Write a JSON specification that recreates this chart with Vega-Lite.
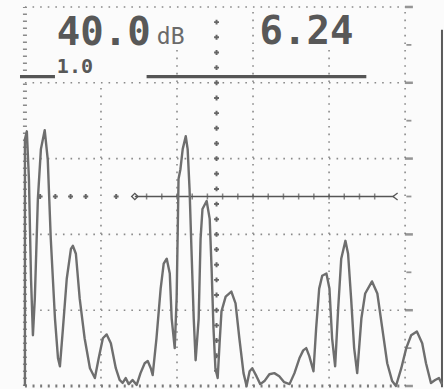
{
  "$schema": "https://vega.github.io/schema/vega-lite/v6.json",
  "width": 444,
  "height": 389,
  "autosize": {"type": "fit", "contains": "padding"},
  "padding": 0,
  "background": "#fbfbfb",
  "config": {"view": {"stroke": null}},
  "datasets": {
    "wave": [
      {"x": 0, "y": 0}, {"x": 0, "y": 65.1}, {"x": 0.5, "y": 67.2}, {"x": 1.05, "y": 54.6}, {"x": 1.6, "y": 28.3},
      {"x": 2.1, "y": 13.4}, {"x": 2.6, "y": 23.1}, {"x": 3.4, "y": 49.3}, {"x": 4.2, "y": 62.5}, {"x": 5.2, "y": 67.5},
      {"x": 6.0, "y": 59.8}, {"x": 6.8, "y": 38.8}, {"x": 7.9, "y": 17.8}, {"x": 8.7, "y": 7.3}, {"x": 9.2, "y": 5.2},
      {"x": 10.0, "y": 15.2}, {"x": 11.0, "y": 28.3}, {"x": 12.1, "y": 36.2}, {"x": 12.6, "y": 37.0}, {"x": 13.4, "y": 34.9},
      {"x": 14.4, "y": 23.1}, {"x": 15.7, "y": 12.6}, {"x": 17.1, "y": 4.7}, {"x": 18.4, "y": 2.1}, {"x": 19.4, "y": 7.3},
      {"x": 20.5, "y": 12.6}, {"x": 21.5, "y": 13.6}, {"x": 22.6, "y": 11.3}, {"x": 23.9, "y": 4.7}, {"x": 24.9, "y": 1.6},
      {"x": 25.7, "y": 0.8}, {"x": 26.5, "y": 2.1}, {"x": 27.3, "y": 0.5}, {"x": 28.3, "y": 1.6}, {"x": 29.4, "y": 0.3},
      {"x": 30.4, "y": 3.4}, {"x": 31.5, "y": 6.0}, {"x": 32.3, "y": 6.6}, {"x": 33.1, "y": 4.7}, {"x": 33.6, "y": 2.9},
      {"x": 34.6, "y": 12.6}, {"x": 35.7, "y": 25.7}, {"x": 36.5, "y": 32.3}, {"x": 37.3, "y": 33.6}, {"x": 38.1, "y": 29.7},
      {"x": 38.6, "y": 17.8}, {"x": 39.4, "y": 10.0}, {"x": 39.9, "y": 23.1}, {"x": 40.2, "y": 41.5}, {"x": 40.4, "y": 54.6},
      {"x": 40.9, "y": 57.2}, {"x": 41.5, "y": 62.5}, {"x": 42.3, "y": 65.9}, {"x": 42.8, "y": 62.5}, {"x": 43.3, "y": 52.0},
      {"x": 43.8, "y": 36.2}, {"x": 44.4, "y": 17.8}, {"x": 44.9, "y": 6.8}, {"x": 45.7, "y": 17.8}, {"x": 46.2, "y": 38.8},
      {"x": 46.7, "y": 46.7}, {"x": 47.8, "y": 48.8}, {"x": 48.6, "y": 44.1}, {"x": 49.1, "y": 31.0}, {"x": 49.6, "y": 15.2},
      {"x": 50.1, "y": 4.7}, {"x": 50.7, "y": 2.1}, {"x": 51.2, "y": 11.3}, {"x": 51.7, "y": 19.7}, {"x": 52.8, "y": 23.6},
      {"x": 54.3, "y": 24.9}, {"x": 55.4, "y": 21.8}, {"x": 56.4, "y": 12.6}, {"x": 57.5, "y": 3.4}, {"x": 58.3, "y": 0},
      {"x": 59.1, "y": 3.9}, {"x": 59.8, "y": 4.7}, {"x": 60.9, "y": 2.6}, {"x": 61.9, "y": 0.5}, {"x": 63.0, "y": 1.3},
      {"x": 64.3, "y": 3.1}, {"x": 65.6, "y": 3.4}, {"x": 66.9, "y": 2.6}, {"x": 68.2, "y": 1.0}, {"x": 69.6, "y": 0.5},
      {"x": 70.9, "y": 3.4}, {"x": 72.2, "y": 7.3}, {"x": 73.2, "y": 9.4}, {"x": 74.0, "y": 10.0}, {"x": 74.8, "y": 7.9},
      {"x": 75.9, "y": 3.9}, {"x": 76.6, "y": 15.2}, {"x": 77.4, "y": 25.7}, {"x": 78.2, "y": 29.1}, {"x": 79.3, "y": 29.7},
      {"x": 80.1, "y": 25.7}, {"x": 80.8, "y": 12.6}, {"x": 81.6, "y": 5.2}, {"x": 82.4, "y": 20.5}, {"x": 83.2, "y": 33.6},
      {"x": 84.3, "y": 38.3}, {"x": 85.0, "y": 34.9}, {"x": 85.8, "y": 23.1}, {"x": 86.6, "y": 10.0}, {"x": 87.4, "y": 3.4},
      {"x": 88.5, "y": 17.8}, {"x": 89.5, "y": 24.4}, {"x": 91.3, "y": 27.6}, {"x": 92.7, "y": 24.4}, {"x": 94.0, "y": 15.2},
      {"x": 95.3, "y": 6.0}, {"x": 96.6, "y": 1.3}, {"x": 97.6, "y": 0}, {"x": 99.0, "y": 4.7}, {"x": 100.3, "y": 10.0},
      {"x": 101.6, "y": 13.4}, {"x": 103.1, "y": 14.4}, {"x": 104.5, "y": 11.3}, {"x": 105.5, "y": 6.0}, {"x": 106.8, "y": 0.8},
      {"x": 107.9, "y": 1.6}, {"x": 108.9, "y": 2.1}, {"x": 109.7, "y": 0.5}
    ],
    "vgrid": [
      {"x": 20, "y": 0, "y2": 79.8}, {"x": 40, "y": 0, "y2": 88.7}, {"x": 60, "y": 0, "y2": 100},
      {"x": 80, "y": 0, "y2": 88.7}, {"x": 100, "y": 0, "y2": 100}
    ],
    "hgrid": [
      {"y": 20, "x": 0, "x2": 100}, {"y": 40, "x": 0, "x2": 100}, {"y": 60, "x": 0, "x2": 100},
      {"y": 80, "x": 0, "x2": 100}, {"y": 100, "x": 0, "x2": 100}
    ],
    "leftEdge": [{"x": 0, "y": 0, "y2": 100}],
    "bottomEdge": [{"y": 0, "x": 0, "x2": 100}],
    "screenEdge": [{"x": 109.7, "y": -0.3, "y2": 94}],
    "crosses": [
      {"x": 50.4, "y": 4}, {"x": 50.4, "y": 8}, {"x": 50.4, "y": 12}, {"x": 50.4, "y": 16}, {"x": 50.4, "y": 20},
      {"x": 50.4, "y": 24}, {"x": 50.4, "y": 28}, {"x": 50.4, "y": 32}, {"x": 50.4, "y": 36}, {"x": 50.4, "y": 40},
      {"x": 50.4, "y": 44}, {"x": 50.4, "y": 48}, {"x": 50.4, "y": 52}, {"x": 50.4, "y": 56}, {"x": 50.4, "y": 60},
      {"x": 50.4, "y": 64}, {"x": 50.4, "y": 68}, {"x": 50.4, "y": 72}, {"x": 50.4, "y": 76}, {"x": 50.4, "y": 80},
      {"x": 50.4, "y": 84}, {"x": 50.4, "y": 88}, {"x": 50.4, "y": 92}, {"x": 50.4, "y": 96},
      {"x": 4, "y": 50}, {"x": 8, "y": 50}, {"x": 12, "y": 50}, {"x": 16, "y": 50}, {"x": 24, "y": 50}
    ],
    "gateLine": [{"y": 50, "x": 28.9, "x2": 97.1}],
    "gateTicks": [
      {"x": 32, "y": 50}, {"x": 36, "y": 50}, {"x": 40, "y": 50}, {"x": 44, "y": 50}, {"x": 48, "y": 50},
      {"x": 52, "y": 50}, {"x": 56, "y": 50}, {"x": 60, "y": 50}, {"x": 64, "y": 50}, {"x": 68, "y": 50},
      {"x": 72, "y": 50}, {"x": 76, "y": 50}, {"x": 80, "y": 50}, {"x": 84, "y": 50}, {"x": 88, "y": 50},
      {"x": 92, "y": 50}
    ],
    "gateStart": [{"x": 28.9, "y": 50}],
    "gateEnd": [{"x": 97.1, "y": 50}],
    "majorTicks": [
      {"x": 101, "y": 0}, {"x": 101, "y": 20}, {"x": 101, "y": 40}, {"x": 101, "y": 60}, {"x": 101, "y": 80}, {"x": 101, "y": 100}
    ],
    "minorTicks": [
      {"x": 101, "y": 10}, {"x": 101, "y": 30}, {"x": 101, "y": 50}, {"x": 101, "y": 70}, {"x": 101, "y": 90}
    ],
    "headerBars": [{"y": 81.6, "x": -1.3, "x2": 7.9}, {"y": 81.6, "x": 32, "x2": 89.8}],
    "bigText": [{"x": 8.4, "y": 90, "t": "40.0"}, {"x": 61.7, "y": 90.2, "t": "6.24"}],
    "unitText": [{"x": 34.7, "y": 90.2, "t": "dB"}],
    "smallText": [{"x": 8.4, "y": 82.7, "t": "1.0"}]
  },
  "layer": [
    {
      "data": {"name": "vgrid"},
      "mark": {"type": "rule", "stroke": "#8a8a8a", "strokeWidth": 1.6, "strokeDash": [1.6, 6]},
      "encoding": {
        "x": {"field": "x", "type": "quantitative", "scale": {"domain": [-6.56, 109.97], "nice": false, "zero": false}, "axis": null},
        "y": {"field": "y", "type": "quantitative", "scale": {"domain": [-0.26, 101.84], "nice": false, "zero": false}, "axis": null},
        "y2": {"field": "y2"}
      }
    },
    {
      "data": {"name": "hgrid"},
      "mark": {"type": "rule", "stroke": "#8a8a8a", "strokeWidth": 1.6, "strokeDash": [1.6, 6]},
      "encoding": {
        "x": {"field": "x", "type": "quantitative", "scale": {"domain": [-6.56, 109.97], "nice": false, "zero": false}, "axis": null},
        "x2": {"field": "x2"},
        "y": {"field": "y", "type": "quantitative", "scale": {"domain": [-0.26, 101.84], "nice": false, "zero": false}, "axis": null}
      }
    },
    {
      "data": {"name": "leftEdge"},
      "mark": {"type": "rule", "stroke": "#8a8a8a", "strokeWidth": 4, "strokeDash": [1.4, 5.6]},
      "encoding": {
        "x": {"field": "x", "type": "quantitative", "scale": {"domain": [-6.56, 109.97], "nice": false, "zero": false}, "axis": null},
        "y": {"field": "y", "type": "quantitative", "scale": {"domain": [-0.26, 101.84], "nice": false, "zero": false}, "axis": null},
        "y2": {"field": "y2"}
      }
    },
    {
      "data": {"name": "bottomEdge"},
      "mark": {"type": "rule", "stroke": "#7a7a7a", "strokeWidth": 3, "strokeDash": [2, 5.6]},
      "encoding": {
        "x": {"field": "x", "type": "quantitative", "scale": {"domain": [-6.56, 109.97], "nice": false, "zero": false}, "axis": null},
        "x2": {"field": "x2"},
        "y": {"field": "y", "type": "quantitative", "scale": {"domain": [-0.26, 101.84], "nice": false, "zero": false}, "axis": null}
      }
    },
    {
      "data": {"name": "screenEdge"},
      "mark": {"type": "rule", "stroke": "#5a5a5a", "strokeWidth": 2},
      "encoding": {
        "x": {"field": "x", "type": "quantitative", "scale": {"domain": [-6.56, 109.97], "nice": false, "zero": false}, "axis": null},
        "y": {"field": "y", "type": "quantitative", "scale": {"domain": [-0.26, 101.84], "nice": false, "zero": false}, "axis": null},
        "y2": {"field": "y2"}
      }
    },
    {
      "data": {"name": "majorTicks"},
      "mark": {"type": "tick", "orient": "horizontal", "color": "#6a6a6a", "size": 8, "thickness": 2.5},
      "encoding": {
        "x": {"field": "x", "type": "quantitative", "scale": {"domain": [-6.56, 109.97], "nice": false, "zero": false}, "axis": null},
        "y": {"field": "y", "type": "quantitative", "scale": {"domain": [-0.26, 101.84], "nice": false, "zero": false}, "axis": null}
      }
    },
    {
      "data": {"name": "minorTicks"},
      "mark": {"type": "tick", "orient": "horizontal", "color": "#6a6a6a", "size": 5, "thickness": 1.8},
      "encoding": {
        "x": {"field": "x", "type": "quantitative", "scale": {"domain": [-6.56, 109.97], "nice": false, "zero": false}, "axis": null},
        "y": {"field": "y", "type": "quantitative", "scale": {"domain": [-0.26, 101.84], "nice": false, "zero": false}, "axis": null}
      }
    },
    {
      "data": {"name": "crosses"},
      "mark": {"type": "point", "shape": "cross", "filled": true, "color": "#666666", "size": 24, "opacity": 1},
      "encoding": {
        "x": {"field": "x", "type": "quantitative", "scale": {"domain": [-6.56, 109.97], "nice": false, "zero": false}, "axis": null},
        "y": {"field": "y", "type": "quantitative", "scale": {"domain": [-0.26, 101.84], "nice": false, "zero": false}, "axis": null}
      }
    },
    {
      "data": {"name": "gateLine"},
      "mark": {"type": "rule", "stroke": "#555555", "strokeWidth": 1.6},
      "encoding": {
        "x": {"field": "x", "type": "quantitative", "scale": {"domain": [-6.56, 109.97], "nice": false, "zero": false}, "axis": null},
        "x2": {"field": "x2"},
        "y": {"field": "y", "type": "quantitative", "scale": {"domain": [-0.26, 101.84], "nice": false, "zero": false}, "axis": null}
      }
    },
    {
      "data": {"name": "gateTicks"},
      "mark": {"type": "tick", "orient": "vertical", "color": "#555555", "size": 6, "thickness": 1.5},
      "encoding": {
        "x": {"field": "x", "type": "quantitative", "scale": {"domain": [-6.56, 109.97], "nice": false, "zero": false}, "axis": null},
        "y": {"field": "y", "type": "quantitative", "scale": {"domain": [-0.26, 101.84], "nice": false, "zero": false}, "axis": null}
      }
    },
    {
      "data": {"name": "gateStart"},
      "mark": {"type": "point", "shape": "diamond", "filled": false, "stroke": "#555555", "strokeWidth": 1.3, "size": 40, "opacity": 1},
      "encoding": {
        "x": {"field": "x", "type": "quantitative", "scale": {"domain": [-6.56, 109.97], "nice": false, "zero": false}, "axis": null},
        "y": {"field": "y", "type": "quantitative", "scale": {"domain": [-0.26, 101.84], "nice": false, "zero": false}, "axis": null}
      }
    },
    {
      "data": {"name": "gateEnd"},
      "mark": {"type": "point", "shape": "M1,-1L-0.3,0L1,1", "filled": false, "stroke": "#555555", "strokeWidth": 1.3, "size": 50, "opacity": 1},
      "encoding": {
        "x": {"field": "x", "type": "quantitative", "scale": {"domain": [-6.56, 109.97], "nice": false, "zero": false}, "axis": null},
        "y": {"field": "y", "type": "quantitative", "scale": {"domain": [-0.26, 101.84], "nice": false, "zero": false}, "axis": null}
      }
    },
    {
      "data": {"name": "wave"},
      "mark": {"type": "line", "stroke": "#6e6e6e", "strokeWidth": 2.4, "strokeJoin": "round"},
      "encoding": {
        "x": {"field": "x", "type": "quantitative", "scale": {"domain": [-6.56, 109.97], "nice": false, "zero": false}, "axis": null},
        "y": {"field": "y", "type": "quantitative", "scale": {"domain": [-0.26, 101.84], "nice": false, "zero": false}, "axis": null},
        "order": {"field": "x", "type": "quantitative"}
      }
    },
    {
      "data": {"name": "headerBars"},
      "mark": {"type": "rule", "stroke": "#555555", "strokeWidth": 3.2},
      "encoding": {
        "x": {"field": "x", "type": "quantitative", "scale": {"domain": [-6.56, 109.97], "nice": false, "zero": false}, "axis": null},
        "x2": {"field": "x2"},
        "y": {"field": "y", "type": "quantitative", "scale": {"domain": [-0.26, 101.84], "nice": false, "zero": false}, "axis": null}
      }
    },
    {
      "data": {"name": "bigText"},
      "mark": {"type": "text", "font": "DejaVu Sans Mono", "fontWeight": "bold", "fontSize": 39, "align": "left", "baseline": "alphabetic", "color": "#585858"},
      "encoding": {
        "x": {"field": "x", "type": "quantitative", "scale": {"domain": [-6.56, 109.97], "nice": false, "zero": false}, "axis": null},
        "y": {"field": "y", "type": "quantitative", "scale": {"domain": [-0.26, 101.84], "nice": false, "zero": false}, "axis": null},
        "text": {"field": "t"}
      }
    },
    {
      "data": {"name": "unitText"},
      "mark": {"type": "text", "font": "DejaVu Sans Mono", "fontWeight": "normal", "fontSize": 23, "align": "left", "baseline": "alphabetic", "color": "#6a6a6a"},
      "encoding": {
        "x": {"field": "x", "type": "quantitative", "scale": {"domain": [-6.56, 109.97], "nice": false, "zero": false}, "axis": null},
        "y": {"field": "y", "type": "quantitative", "scale": {"domain": [-0.26, 101.84], "nice": false, "zero": false}, "axis": null},
        "text": {"field": "t"}
      }
    },
    {
      "data": {"name": "smallText"},
      "mark": {"type": "text", "font": "DejaVu Sans Mono", "fontWeight": "bold", "fontSize": 20, "align": "left", "baseline": "alphabetic", "color": "#585858"},
      "encoding": {
        "x": {"field": "x", "type": "quantitative", "scale": {"domain": [-6.56, 109.97], "nice": false, "zero": false}, "axis": null},
        "y": {"field": "y", "type": "quantitative", "scale": {"domain": [-0.26, 101.84], "nice": false, "zero": false}, "axis": null},
        "text": {"field": "t"}
      }
    }
  ]
}
